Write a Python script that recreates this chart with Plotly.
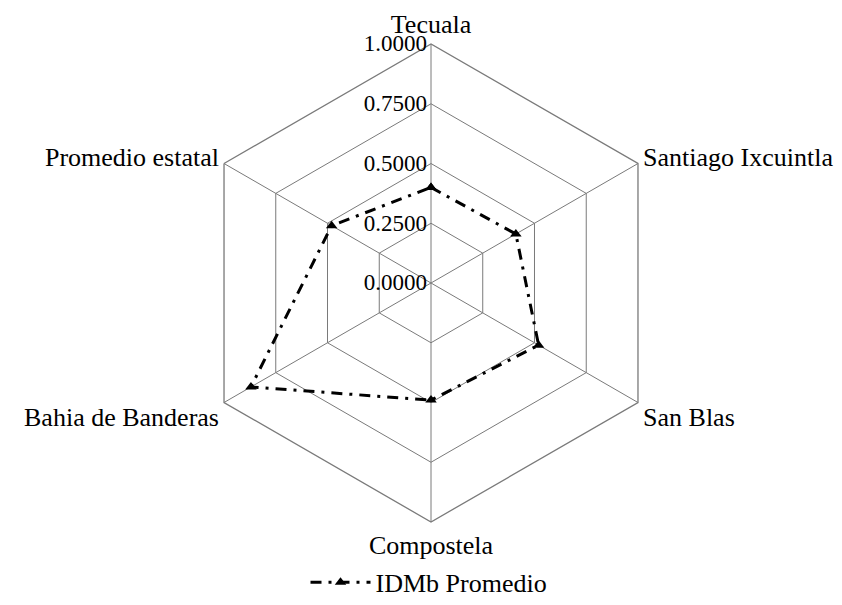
import plotly.graph_objects as go

categories = ["Tecuala", "Santiago Ixcuintla", "San Blas", "Compostela",
              "Bahia de Banderas", "Promedio estatal"]
values = [0.40, 0.41, 0.52, 0.49, 0.87, 0.48]
series_name = "IDMb Promedio"
tick_vals = [0, 0.25, 0.5, 0.75, 1.0]
tick_text = ["0.0000", "0.2500", "0.5000", "0.7500", "1.0000"]

fig = go.Figure()
fig.add_trace(go.Scatterpolar(
    r=values + values[:1],
    theta=categories + categories[:1],
    mode="lines+markers",
    name=series_name,
    line=dict(color="black", width=3, dash="11px,7px,3px,7px"),
    marker=dict(symbol="triangle-up", size=10, color="black"),
))

font = "Liberation Serif"
fig.update_layout(
    width=842, height=605,
    paper_bgcolor="white", plot_bgcolor="white",
    font=dict(family=font, size=26, color="black"),
    margin=dict(l=184, r=180, t=36, b=91),
    showlegend=True,
    legend=dict(orientation="h", x=0.5, xanchor="center", xref="container",
                y=0.012, yanchor="bottom", yref="container",
                itemwidth=60, font=dict(size=26)),
    polar=dict(
        bgcolor="white",
        gridshape="linear",
        domain=dict(x=[0, 1], y=[0, 1]),
        angularaxis=dict(direction="clockwise", rotation=90,
                         linecolor="#7a7a7a", linewidth=1.3,
                         gridcolor="#7a7a7a", gridwidth=1.3,
                         ticks="", tickfont=dict(size=26)),
        radialaxis=dict(range=[0, 1], tickvals=tick_vals, ticktext=tick_text,
                        angle=90, tickangle=90, side="counterclockwise",
                        showline=False, gridcolor="#7a7a7a", gridwidth=1.3,
                        ticks="", tickfont=dict(size=23)),
    ),
)
fig.write_html("out.html")
